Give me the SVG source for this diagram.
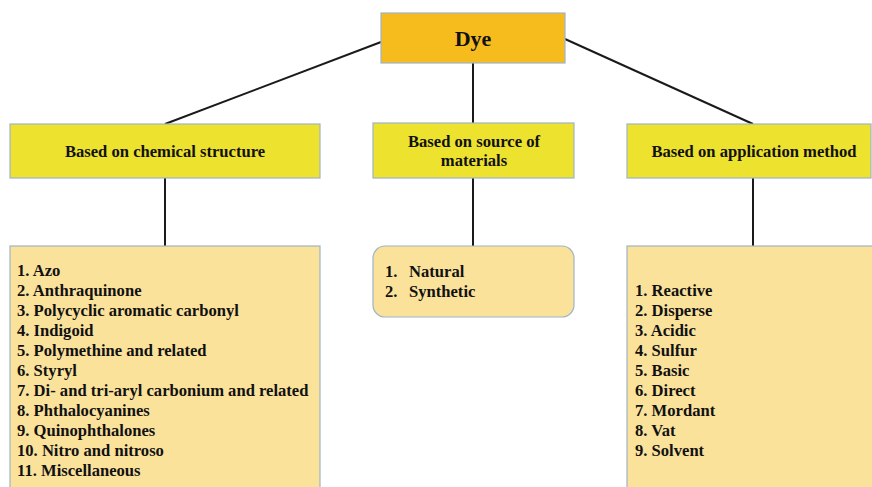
<svg xmlns="http://www.w3.org/2000/svg" width="872" height="487" viewBox="0 0 872 487">
  <style>
    .root { fill: #F6BC1E; stroke: #9FB4C6; stroke-width: 1.2; }
    .cat { fill: #EDE32F; stroke: #9FB4C6; stroke-width: 1.2; }
    .list { fill: #FBE29B; stroke: #9FB4C6; stroke-width: 1.2; }
    .conn line { stroke: #1a1a1a; stroke-width: 2; }
    text { font-family: "Liberation Serif", "Times New Roman", serif; font-weight: bold; fill: #111; }
    .title { font-size: 22px; }
    .lbl { font-size: 16.6px; }
    .item { font-size: 16.6px; }
  </style>
  <rect width="872" height="487" fill="#ffffff"/>

  <g class="conn" id="connectors">
    <line x1="381" y1="42" x2="165" y2="124"/>
    <line x1="473" y1="63" x2="473" y2="123"/>
    <line x1="565" y1="39" x2="753" y2="124"/>
    <line x1="165" y1="178" x2="165" y2="246"/>
    <line x1="473" y1="178" x2="473" y2="246"/>
    <line x1="753" y1="178" x2="753" y2="246"/>
  </g>

  <g id="dye">
    <rect class="root" x="381" y="13" width="184" height="50"/>
    <text class="title" x="473" y="46" text-anchor="middle">Dye</text>
  </g>

  <g id="chemical-structure">
    <rect class="cat" x="10" y="124" width="310" height="54"/>
    <text class="lbl" x="165" y="157" text-anchor="middle">Based on chemical structure</text>
  </g>

  <g id="source-of-materials">
    <rect class="cat" x="373" y="123" width="201" height="55"/>
    <text class="lbl" x="474" y="147" text-anchor="middle">Based on source of</text>
    <text class="lbl" x="474" y="166" text-anchor="middle">materials</text>
  </g>

  <g id="application-method">
    <rect class="cat" x="627" y="124" width="244" height="54"/>
    <text class="lbl" x="754" y="157" text-anchor="middle">Based on application method</text>
  </g>

  <g id="chemical-list">
    <rect class="list" x="10" y="246" width="310" height="250"/>
    <text class="item" x="17" y="276">1. Azo</text>
    <text class="item" x="17" y="296">2. Anthraquinone</text>
    <text class="item" x="17" y="316">3. Polycyclic aromatic carbonyl</text>
    <text class="item" x="17" y="336">4. Indigoid</text>
    <text class="item" x="17" y="356">5. Polymethine and related</text>
    <text class="item" x="17" y="376">6. Styryl</text>
    <text class="item" x="17" y="396">7. Di- and tri-aryl carbonium and related</text>
    <text class="item" x="17" y="416">8. Phthalocyanines</text>
    <text class="item" x="17" y="436">9. Quinophthalones</text>
    <text class="item" x="17" y="456">10. Nitro and nitroso</text>
    <text class="item" x="17" y="476">11. Miscellaneous</text>
  </g>

  <g id="source-list">
    <rect class="list" x="373" y="246" width="201" height="71" rx="12" ry="12"/>
    <text class="item" x="385" y="277">1.</text>
    <text class="item" x="409" y="277">Natural</text>
    <text class="item" x="385" y="297">2.</text>
    <text class="item" x="409" y="297">Synthetic</text>
  </g>

  <g id="application-list">
    <rect class="list" x="627" y="246" width="260" height="250"/>
    <text class="item" x="635" y="296">1. Reactive</text>
    <text class="item" x="635" y="316">2. Disperse</text>
    <text class="item" x="635" y="336">3. Acidic</text>
    <text class="item" x="635" y="356">4. Sulfur</text>
    <text class="item" x="635" y="376">5. Basic</text>
    <text class="item" x="635" y="396">6. Direct</text>
    <text class="item" x="635" y="416">7. Mordant</text>
    <text class="item" x="635" y="436">8. Vat</text>
    <text class="item" x="635" y="456">9. Solvent</text>
  </g>
</svg>
